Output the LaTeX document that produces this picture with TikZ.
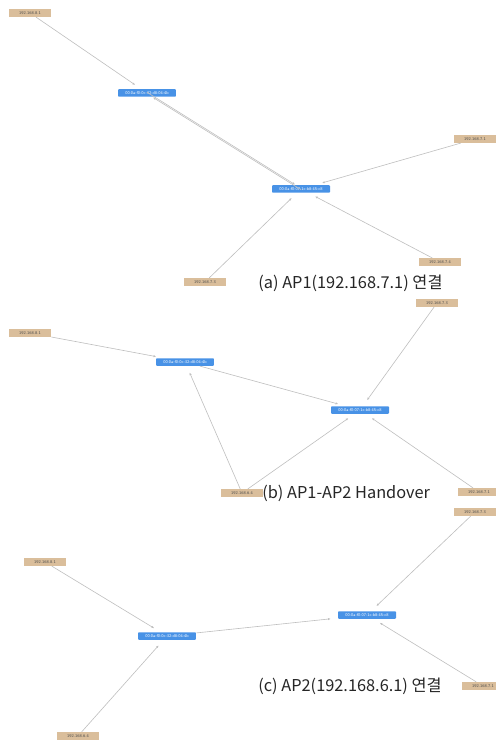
\documentclass[tikz,border=0pt]{standalone}
\usepackage{fontspec}
\newfontfamily\krfont{Noto Sans CJK KR}
\tikzset{
  ipbox/.style={draw=none, fill=ipcol, minimum width=0.84cm, minimum height=0.15cm,
    inner sep=0pt, font=\fontsize{2.4}{3}\selectfont\sffamily, text=black!70},
  macbox/.style={draw=none, fill=maccol, rounded corners=0.5pt, minimum width=1.16cm,
    minimum height=0.15cm, inner sep=0.6pt, font=\fontsize{2.4}{3}\selectfont\sffamily, text=white},
  link/.style={draw=black!25, line width=0.35pt, -{Latex[length=1.5pt,width=1.3pt]}, shorten >=4pt},
  caption/.style={font=\krfont\fontsize{9.3}{11}\selectfont, text=black!85, anchor=west, inner sep=0pt}
}
\definecolor{ipcol}{RGB}{218,190,155}
\definecolor{maccol}{RGB}{72,146,230}
\usetikzlibrary{arrows.meta}
\begin{document}
\begin{tikzpicture}[x=0.02cm, y=-0.02cm]
    \useasboundingbox (0,0) rectangle (495,746);

    % (a) AP1 connection
    \node[ipbox]  (ipa81) at (30,13)   {192.168.8.1};
    \node[macbox] (maca1) at (147,93)  {00:0a:f0:0c:32:d8:04:4b};
    \node[macbox] (maca2) at (301,189) {00:0a:f0:07:1c:b8:45:c8};
    \node[ipbox]  (ipa71) at (475,139) {192.168.7.1};
    \node[ipbox]  (ipa73) at (205,282) {192.168.7.3};
    \node[ipbox]  (ipa74) at (440,262) {192.168.7.4};
    \draw[link] (ipa81) -- (maca1);
    \draw[link] ([yshift=0.4pt]maca1.center) -- ([yshift=0.4pt]maca2.center);
    \draw[link] ([yshift=-0.4pt]maca2.center) -- ([yshift=-0.4pt]maca1.center);
    \draw[link] (ipa71) -- (maca2);
    \draw[link] (ipa73) -- (maca2);
    \draw[link] (ipa74) -- (maca2);
    \node[caption] (capa) at (258,283) {(a) AP1(192.168.7.1) 연결};

    % (b) handover
    \node[ipbox]  (ipb81) at (30,333)  {192.168.8.1};
    \node[macbox] (macb1) at (185,362) {00:0a:f0:0c:32:d8:04:4b};
    \node[macbox] (macb2) at (360,410) {00:0a:f0:07:1c:b8:45:c8};
    \node[ipbox]  (ipb73) at (437,303) {192.168.7.3};
    \node[ipbox]  (ipb64) at (242,493) {192.168.6.4};
    \node[ipbox]  (ipb71) at (479,492) {192.168.7.1};
    \draw[link] (ipb81) -- (macb1);
    \draw[link] (macb1) -- (macb2);
    \draw[link] (ipb73) -- (macb2);
    \draw[link] (ipb64) -- (macb1);
    \draw[link] (ipb64) -- (macb2);
    \draw[link] (ipb71) -- (macb2);
    \node[caption] (capb) at (262,493) {(b) AP1-AP2 Handover};

    % (c) AP2 connection
    \node[ipbox]  (ipc81) at (45,562)  {192.168.8.1};
    \node[macbox] (macc1) at (167,636) {00:0a:f0:0c:32:d8:04:4b};
    \node[macbox] (macc2) at (367,615) {00:0a:f0:07:1c:b8:45:c8};
    \node[ipbox]  (ipc73) at (475,512) {192.168.7.3};
    \node[ipbox]  (ipc64) at (78,736)  {192.168.6.4};
    \node[ipbox]  (ipc71) at (483,686) {192.168.7.1};
    \draw[link] (ipc81) -- (macc1);
    \draw[link] (ipc64) -- (macc1);
    \draw[link] (macc1) -- (macc2);
    \draw[link] (ipc73) -- (macc2);
    \draw[link] (ipc71) -- (macc2);
    \node[caption] (capc) at (258,686) {(c) AP2(192.168.6.1) 연결};
\end{tikzpicture}
\end{document}
